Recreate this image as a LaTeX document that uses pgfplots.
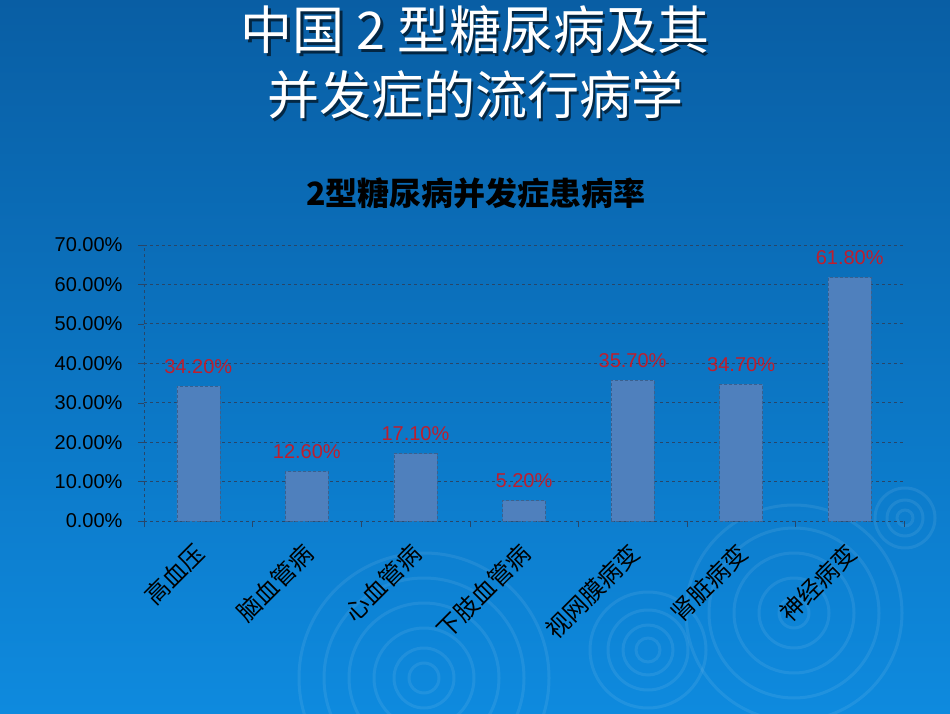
\documentclass[border=0pt]{standalone}
\usepackage{pgfplots}
\pgfplotsset{compat=1.18}
\usepackage{fontspec}
\setmainfont{Liberation Sans}
\newfontfamily\cjk{Noto Sans CJK SC}

\definecolor{bgtop}{RGB}{9,94,164}
\definecolor{bgbot}{RGB}{14,138,222}
\definecolor{barblue}{RGB}{79,128,189}
\definecolor{lblred}{RGB}{190,30,45}
\definecolor{gridc}{RGB}{40,70,105}

\begin{document}
\begin{tikzpicture}
% slide background
\shade[top color=bgtop,bottom color=bgbot] (0pt,0pt) rectangle (950pt,713pt);
\useasboundingbox (0pt,0pt) rectangle (950pt,713pt);
% ripples
\begin{scope}[draw=white,opacity=0.08,line width=3pt]
  \foreach \r in {15,30,50,75,100,125} \draw (424pt,35pt) circle (\r pt);
  \foreach \r in {12,25,40,58} \draw (648pt,63pt) circle (\r pt);
  \foreach \r in {15,35,60,85,108} \draw (794pt,100pt) circle (\r pt);
  \foreach \r in {8,18,30} \draw (905pt,195pt) circle (\r pt);
\end{scope}

% slide title, with its shadow
\tikzset{slidetitle/.style={font=\cjk\fontsize{52}{56}\selectfont}}
\node[slidetitle,text=black,opacity=0.6] at (477.5pt,680.5pt) {中国 2 型糖尿病及其};
\node[slidetitle,text=black,opacity=0.6] at (477.5pt,615.5pt) {并发症的流行病学};
\node[slidetitle,text=white] at (475pt,683pt) {中国 2 型糖尿病及其};
\node[slidetitle,text=white] at (475pt,618pt) {并发症的流行病学};
% chart title
\node[font=\cjk\bfseries\fontsize{32}{36}\selectfont,text=black] at (476pt,520pt) {2型糖尿病并发症患病率};

\begin{axis}[
    at={(144pt,192pt)}, anchor=south west,
    scale only axis,
    width=760pt, height=276pt,
    ybar,
    bar width=43pt,
    xmin=-0.5, xmax=6.5,
    ymin=0, ymax=70,
    ytick={0,10,...,70},
    yticklabel={\pgfmathprintnumber[fixed,fixed zerofill,precision=2]{\tick}\%},
    /pgf/number format/assume math mode=true,
    yticklabel style={font=\fontsize{20}{20}\selectfont,text=black,xshift=-12pt},
    xtick={0,...,6},
    xticklabels={高血压,脑血管病,心血管病,下肢血管病,视网膜病变,肾脏病变,神经病变},
    xticklabel style={font=\cjk\fontsize{24}{24}\selectfont,text=black,
        anchor=north east,inner sep=0pt,xshift=-6pt,yshift=-14pt,rotate=45},
    xtick style={draw=none},
    extra x ticks={-0.5,0.5,...,6.5},
    extra x tick labels={},
    extra x tick style={xtick style={draw=gridc,solid}},
    tick align=outside,
    major tick length=6pt,
    ytick style={draw=gridc},
    axis x line*=bottom,
    axis y line*=left,
    axis line style={draw=gridc,dashed},
    ymajorgrids,
    grid style={draw=gridc,dashed,line width=0.8pt},
    nodes near coords={\pgfmathprintnumber[fixed,fixed zerofill,precision=2]{\pgfplotspointmeta}\%},
    every node near coord/.append style={font=\fontsize{20}{20}\selectfont,text=lblred,yshift=9pt},
]
\addplot[fill=barblue,draw=barblue!75!black,densely dashed,line width=0.4pt]
    coordinates {(0,34.2) (1,12.6) (2,17.1) (3,5.2) (4,35.7) (5,34.7) (6,61.8)};
\end{axis}
\end{tikzpicture}
\end{document}
